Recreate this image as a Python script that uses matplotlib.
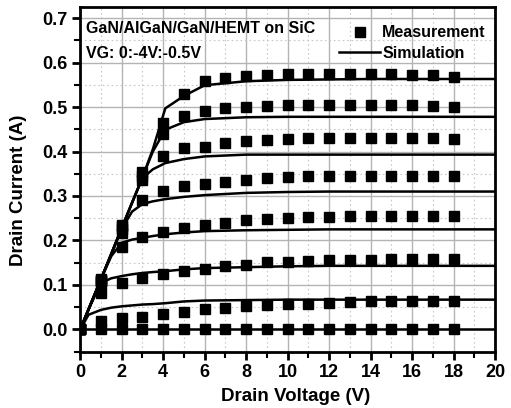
import numpy as np
import matplotlib
matplotlib.use('Agg')
import matplotlib.pyplot as plt
from matplotlib.ticker import MultipleLocator

plt.rcParams['font.family'] = ['Liberation Sans', 'DejaVu Sans']
plt.rcParams['font.weight'] = 'bold'

# Measurement points, drain voltage 0..18 V, one list per gate voltage
vd_meas = [0, 1, 2, 3, 4, 5, 6, 7, 8, 9, 10, 11, 12, 13, 14, 15, 16, 17, 18]
meas_vg0 = [0, 0.113, 0.235, 0.355, 0.463, 0.530, 0.558, 0.566, 0.570, 0.573, 0.575, 0.575, 0.575, 0.575, 0.575, 0.574, 0.573, 0.572, 0.568]
meas_vg05 = [0, 0.112, 0.232, 0.345, 0.440, 0.479, 0.492, 0.497, 0.500, 0.502, 0.505, 0.505, 0.505, 0.505, 0.505, 0.505, 0.504, 0.503, 0.501]
meas_vg10 = [0, 0.110, 0.225, 0.336, 0.390, 0.408, 0.411, 0.420, 0.423, 0.426, 0.428, 0.430, 0.430, 0.430, 0.430, 0.430, 0.430, 0.430, 0.428]
meas_vg15 = [0, 0.108, 0.217, 0.291, 0.312, 0.323, 0.328, 0.332, 0.336, 0.341, 0.343, 0.345, 0.345, 0.346, 0.346, 0.346, 0.346, 0.346, 0.345]
meas_vg20 = [0, 0.105, 0.185, 0.208, 0.219, 0.228, 0.235, 0.240, 0.245, 0.248, 0.251, 0.253, 0.252, 0.255, 0.254, 0.256, 0.254, 0.254, 0.254]
meas_vg25 = [0, 0.082, 0.104, 0.115, 0.124, 0.131, 0.135, 0.142, 0.146, 0.151, 0.152, 0.153, 0.156, 0.157, 0.157, 0.158, 0.158, 0.158, 0.158]
meas_vg30 = [0, 0.018, 0.025, 0.028, 0.035, 0.039, 0.045, 0.048, 0.052, 0.054, 0.057, 0.058, 0.059, 0.061, 0.063, 0.063, 0.063, 0.063, 0.063]
meas_vg35 = [0, 0, 0, 0, 0, 0, 0, 0, 0, 0, 0, 0, 0, 0, 0, 0, 0, 0, 0]

# Simulation curves
vd_sim = [0, 0.4, 1, 1.5, 2, 2.5, 3, 3.5, 4.1, 5, 6, 8, 10, 12, 14, 16, 18, 20]
sim_vg0 = [0, 0.045, 0.113, 0.170, 0.228, 0.285, 0.342, 0.405, 0.497, 0.525, 0.549, 0.558, 0.561, 0.562, 0.563, 0.563, 0.563, 0.563]
sim_vg05 = [0, 0.045, 0.113, 0.170, 0.228, 0.285, 0.342, 0.400, 0.449, 0.466, 0.473, 0.477, 0.478, 0.478, 0.478, 0.478, 0.478, 0.478]
sim_vg10 = [0, 0.045, 0.113, 0.170, 0.228, 0.285, 0.340, 0.360, 0.374, 0.383, 0.389, 0.393, 0.393, 0.393, 0.393, 0.393, 0.393, 0.393]
sim_vg15 = [0, 0.045, 0.113, 0.170, 0.226, 0.265, 0.282, 0.288, 0.293, 0.298, 0.302, 0.307, 0.309, 0.310, 0.310, 0.310, 0.310, 0.310]
sim_vg20 = [0, 0.045, 0.113, 0.165, 0.195, 0.202, 0.206, 0.210, 0.214, 0.218, 0.221, 0.223, 0.224, 0.225, 0.225, 0.225, 0.225, 0.225]
sim_vg25 = [0, 0.045, 0.105, 0.115, 0.120, 0.124, 0.127, 0.129, 0.131, 0.135, 0.138, 0.140, 0.142, 0.143, 0.143, 0.143, 0.143, 0.143]
sim_vg30 = [0, 0.033, 0.044, 0.049, 0.052, 0.054, 0.056, 0.057, 0.059, 0.063, 0.065, 0.066, 0.067, 0.067, 0.067, 0.067, 0.067, 0.067]
sim_vg35 = [0, 0, 0, 0, 0, 0, 0, 0, 0, 0, 0, 0, 0, 0, 0, 0, 0, 0]

meas_all = [meas_vg0, meas_vg05, meas_vg10, meas_vg15, meas_vg20, meas_vg25, meas_vg30, meas_vg35]
sim_all = [sim_vg0, sim_vg05, sim_vg10, sim_vg15, sim_vg20, sim_vg25, sim_vg30, sim_vg35]

fig = plt.figure(figsize=(5.11, 4.08), dpi=100)
ax = fig.add_axes([0.157, 0.138, 0.812, 0.845])

# Grid first so the data sits on top
ax.set_axisbelow(True)
ax.xaxis.set_major_locator(MultipleLocator(2))
ax.xaxis.set_minor_locator(MultipleLocator(1))
ax.yaxis.set_major_locator(MultipleLocator(0.1))
ax.yaxis.set_minor_locator(MultipleLocator(0.05))
ax.grid(True, which='major', color='#b4b4b4', linewidth=1.0)
ax.grid(True, which='minor', color='#c8c8c8', linestyle=(0, (1.5, 2.5)), linewidth=0.8)

for i, (m, s) in enumerate(zip(meas_all, sim_all)):
    ax.plot(vd_meas, m, 's', color='black', markersize=6.8,
            label='Measurement' if i == 0 else None, zorder=3)
    ax.plot(vd_sim, s, '-', color='black', linewidth=1.8,
            label='Simulation' if i == 0 else None, zorder=2)

ax.set_xlim(0, 20)
ax.set_ylim(-0.05, 0.725)
ax.yaxis.set_major_formatter(matplotlib.ticker.FormatStrFormatter('%.1f'))

for sp in ax.spines.values():
    sp.set_linewidth(2.0)
ax.tick_params(which='major', direction='out', length=6, width=2, labelsize=13, pad=3)
ax.tick_params(which='minor', direction='out', length=4, width=1.5)
for lbl in ax.get_xticklabels() + ax.get_yticklabels():
    lbl.set_fontweight('bold')

ax.set_xlabel('Drain Voltage (V)', fontsize=13.5, fontweight='bold')
ax.set_ylabel('Drain Current (A)', fontsize=13.5, fontweight='bold')
ax.xaxis.set_label_coords(0.519, -0.105)
ax.yaxis.set_label_coords(-0.128, 0.468)

ax.text(0.0145, 0.937, 'GaN/AlGaN/GaN/HEMT on SiC', transform=ax.transAxes,
        fontsize=11.5, fontweight='bold', va='center', ha='left')
ax.text(0.0145, 0.864, 'VG: 0:-4V:-0.5V', transform=ax.transAxes,
        fontsize=11.5, fontweight='bold', va='center', ha='left')

leg = ax.legend(loc='upper right', bbox_to_anchor=(0.993, 0.965), frameon=False,
                fontsize=11.5, handlelength=2.55, handletextpad=0.15,
                borderaxespad=0.0, labelspacing=0.35, markerscale=1.0)
for t in leg.get_texts():
    t.set_fontweight('bold')

fig.savefig('out.png', dpi=100)
